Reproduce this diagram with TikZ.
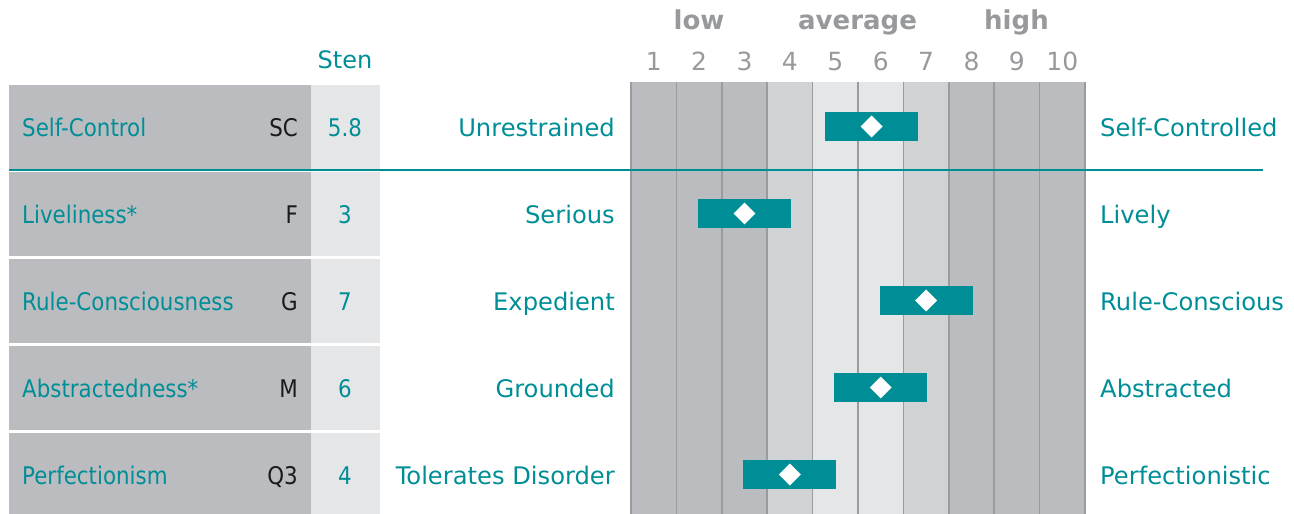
\documentclass[tikz,border=0pt]{standalone}
\usepackage{fontspec}
\setmainfont{DejaVu Sans}
\newfontfamily\tablefont[FakeStretch=0.88]{DejaVu Sans}
\usetikzlibrary{shapes.geometric}
\definecolor{tealc}{RGB}{0,142,150}
\definecolor{gdark}{RGB}{187,188,192}
\definecolor{gmid}{RGB}{209,210,212}
\definecolor{glight}{RGB}{229,230,232}
\definecolor{gline}{RGB}{154,155,159}
\definecolor{gtext}{RGB}{152,153,156}
\definecolor{codec}{RGB}{26,26,26}
\begin{document}
\begin{tikzpicture}[x=1pt,y=-1pt,
  pole/.style={text=tealc,font=\fontsize{24.2}{28}\selectfont,inner sep=0pt},
  tname/.style={text=tealc,font=\tablefont\fontsize{24.3}{28}\selectfont,inner sep=0pt,anchor=base west},
  tcode/.style={text=codec,font=\tablefont\fontsize{24.3}{28}\selectfont,inner sep=0pt,anchor=base east},
  tsten/.style={text=tealc,font=\tablefont\fontsize{24.3}{28}\selectfont,inner sep=0pt,anchor=base},
  num/.style={text=gtext,font=\fontsize{25}{28}\selectfont,inner sep=0pt,anchor=base},
  band/.style={text=gtext,font=\bfseries\fontsize{26}{30}\selectfont,inner sep=0pt,anchor=base},
  scorebar/.style={fill=tealc,draw=none,minimum width=93pt,minimum height=29pt,inner sep=0pt},
  mark diamond/.style={diamond,fill=white,draw=none,inner sep=0pt,minimum width=22pt,minimum height=22pt},
  gridline/.style={draw=gline,line width=1.5pt},
  tableline/.style={draw=tealc,line width=2.8pt}]
\useasboundingbox (0,0) rectangle (1294,514);
% chart columns
\foreach \i/\c in {1/gdark,2/gdark,3/gdark,4/gmid,5/glight,6/glight,7/gmid,8/gdark,9/gdark,10/gdark}{
  \fill[\c] ({631+45.4*(\i-1)},82) rectangle ({631+45.4*\i},514);
  \node[num] (n\i) at ({631+45.4*(\i-0.5)},70) {\i};
}
\foreach \i in {0,...,10}{
  \draw[gridline] ({631+45.4*\i},82) -- ({631+45.4*\i},514);
}
% band headers
\node[band] (low) at (699,30) {low};
\node[band] (avg) at (857.5,30) {average};
\node[band] (high) at (1016.5,30) {high};
\node[text=tealc,font=\fontsize{24}{28}\selectfont,inner sep=0pt,anchor=base] (sten) at (345,68) {Sten};
% left table rows
\foreach \t/\b in {85/168.5,171.5/256,258.5/343,345.5/430,432.5/514}{
  \fill[gdark] (9,\t) rectangle (311,\b);
  \fill[glight] (311,\t) rectangle (380,\b);
}
% teal rule
\coordinate (ruleL) at (9,170);
\coordinate (ruleR) at (1263,170);
\draw[tableline] (ruleL) -- (ruleR);
% rows
\foreach \n/\name/\code/\sv/\lp/\rp/\v in {
  0/Self-Control/SC/5.8/Unrestrained/Self-Controlled/5.8,
  1/Liveliness*/F/3/Serious/Lively/3,
  2/Rule-Consciousness/G/7/Expedient/Rule-Conscious/7,
  3/Abstractedness*/M/6/Grounded/Abstracted/6,
  4/Perfectionism/Q3/4/Tolerates Disorder/Perfectionistic/4}{
  \pgfmathsetmacro{\yc}{127+87*\n}
  \pgfmathsetmacro{\yb}{136.5+87*\n}
  \pgfmathsetmacro{\xv}{631+45.4*(\v-0.5)}
  \node[tname] (name\n) at (22,\yb) {\name};
  \node[tcode] (code\n) at (298,\yb) {\code};
  \node[tsten] (sv\n) at (345,\yb) {\sv};
  \node[pole,anchor=base east] (lp\n) at (615,\yb) {\lp};
  \node[pole,anchor=base west] (rp\n) at (1100,\yb) {\rp};
  \node[scorebar] (bar\n) at (\xv,\yc-0.5) {};
  \node[mark diamond] (dm\n) at (bar\n.center) {};
}
\end{tikzpicture}
\end{document}
